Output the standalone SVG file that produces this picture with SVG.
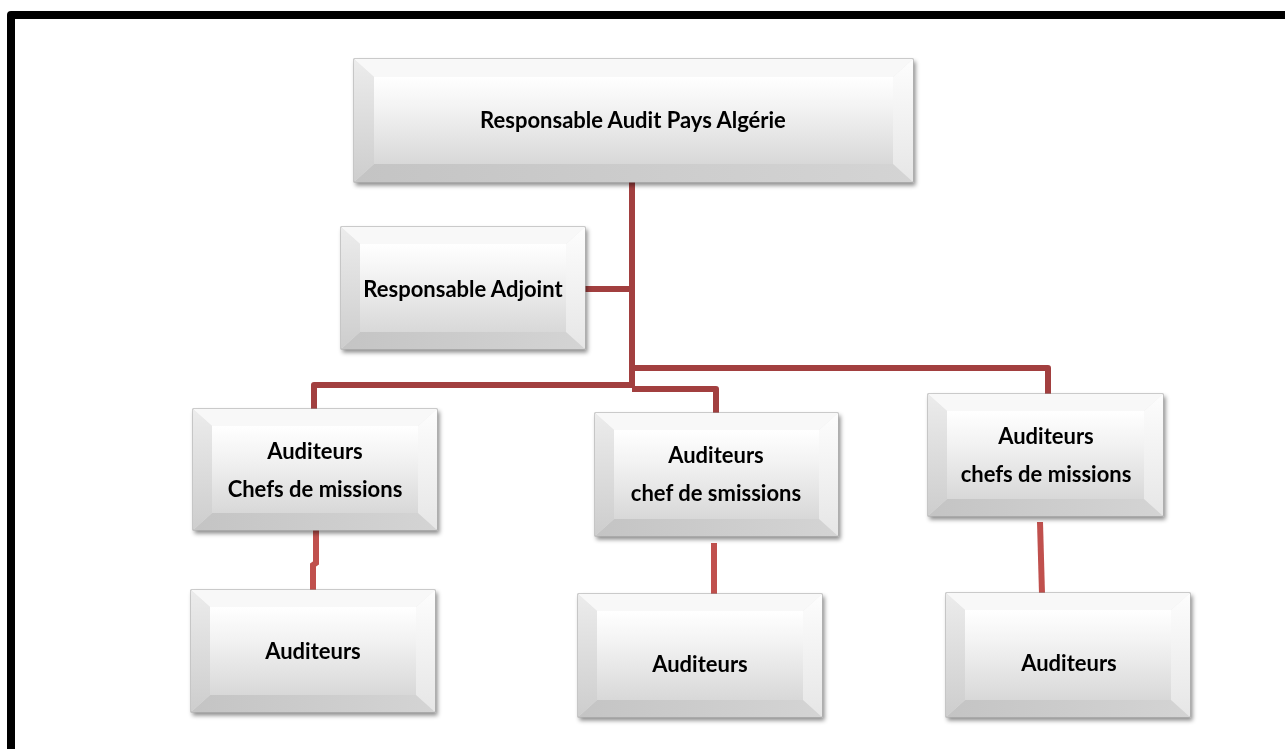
<svg xmlns="http://www.w3.org/2000/svg" width="1285" height="749" viewBox="0 0 1285 749">
<style>
.face{fill:url(#gFace)}
.outer{fill:#e8e8e8;stroke:#9e9e9e;stroke-width:1}
.bt{fill:#f8f8f8}
.bl{fill:url(#gLeft)}
.br{fill:url(#gRight)}
.bb{fill:url(#gBot)}
.lbl{font-family:Lato,"Liberation Sans",sans-serif;font-weight:700;font-size:22px;fill:#000;text-anchor:middle}
.c1{stroke:#a23f3f;stroke-width:6;fill:none;stroke-linejoin:round}
.c2{stroke:#c0504d;stroke-width:6;fill:none}
</style>
<defs>
<linearGradient id="gFace" x1="0" y1="0" x2="0" y2="1">
<stop offset="0" stop-color="#ffffff"/><stop offset="0.35" stop-color="#f3f3f3"/><stop offset="1" stop-color="#d8d8d8"/>
</linearGradient>
<linearGradient id="gLeft" x1="0" y1="0" x2="0" y2="1">
<stop offset="0" stop-color="#ececec"/><stop offset="1" stop-color="#cdcdcd"/>
</linearGradient>
<linearGradient id="gRight" x1="0" y1="0" x2="0" y2="1">
<stop offset="0" stop-color="#fdfdfd"/><stop offset="1" stop-color="#e6e6e6"/>
</linearGradient>
<linearGradient id="gBot" x1="0" y1="0" x2="1" y2="0">
<stop offset="0" stop-color="#c4c4c4"/><stop offset="1" stop-color="#d4d4d4"/>
</linearGradient>
<filter id="sh" x="-10%" y="-10%" width="125%" height="135%">
<feDropShadow dx="2" dy="3" stdDeviation="2" flood-color="#000" flood-opacity="0.45"/>
</filter>
</defs>
<rect width="1285" height="749" fill="#fff"/>
<path d="M11,760 L11,15 L1300,15" stroke="#000" stroke-width="8" fill="none" stroke-linejoin="round"/>

<g id="connectors">
<path class="c1" d="M632,182 L632,387"/>
<path class="c1" d="M585,289 L632,289"/>
<path class="c1" d="M632,368 L1048,368 L1048,394"/>
<path class="c1" d="M632,385 L314,385 L314,409"/>
<path class="c1" d="M632,389 L716,389 L716,413"/>
<path class="c2" d="M316,530 L316,563 L313,565 L313,590"/>
<path class="c2" d="M714,543 L714,594"/>
<path class="c2" d="M1040,522 L1042,594"/>
</g>

<g id="n1" filter="url(#sh)">
<rect class="outer" x="354" y="59" width="559" height="123"/>
<polygon class="bt" points="354,59 913,59 893,77 374,77"/>
<polygon class="bl" points="354,59 374,77 374,164 354,182"/>
<polygon class="br" points="913,59 913,182 893,164 893,77"/>
<polygon class="bb" points="354,182 374,164 893,164 913,182"/>
<rect class="face" x="374" y="77" width="519" height="87"/>
<text class="lbl" x="633" y="128">Responsable Audit Pays Algérie</text>
</g>

<g id="n2" filter="url(#sh)">
<rect class="outer" x="341" y="227" width="244" height="122"/>
<polygon class="bt" points="341,227 585,227 566,244 360,244"/>
<polygon class="bl" points="341,227 360,244 360,332 341,349"/>
<polygon class="br" points="585,227 585,349 566,332 566,244"/>
<polygon class="bb" points="341,349 360,332 566,332 585,349"/>
<rect class="face" x="360" y="244" width="206" height="88"/>
<text class="lbl" x="463" y="297">Responsable Adjoint</text>
</g>

<g id="n3" filter="url(#sh)">
<rect class="outer" x="193" y="409" width="244" height="121"/>
<polygon class="bt" points="193,409 437,409 418,426 212,426"/>
<polygon class="bl" points="193,409 212,426 212,513 193,530"/>
<polygon class="br" points="437,409 437,530 418,513 418,426"/>
<polygon class="bb" points="193,530 212,513 418,513 437,530"/>
<rect class="face" x="212" y="426" width="206" height="87"/>
<text class="lbl" x="315" y="459">Auditeurs</text>
<text class="lbl" x="315" y="497">Chefs de missions</text>
</g>

<g id="n4" filter="url(#sh)">
<rect class="outer" x="595" y="413" width="243" height="123"/>
<polygon class="bt" points="595,413 838,413 819,430 614,430"/>
<polygon class="bl" points="595,413 614,430 614,519 595,536"/>
<polygon class="br" points="838,413 838,536 819,519 819,430"/>
<polygon class="bb" points="595,536 614,519 819,519 838,536"/>
<rect class="face" x="614" y="430" width="205" height="89"/>
<text class="lbl" x="716" y="463">Auditeurs</text>
<text class="lbl" x="716" y="501">chef de smissions</text>
</g>

<g id="n5" filter="url(#sh)">
<rect class="outer" x="928" y="394" width="235" height="122"/>
<polygon class="bt" points="928,394 1163,394 1144,411 947,411"/>
<polygon class="bl" points="928,394 947,411 947,499 928,516"/>
<polygon class="br" points="1163,394 1163,516 1144,499 1144,411"/>
<polygon class="bb" points="928,516 947,499 1144,499 1163,516"/>
<rect class="face" x="947" y="411" width="197" height="88"/>
<text class="lbl" x="1046" y="444">Auditeurs</text>
<text class="lbl" x="1046" y="482">chefs de missions</text>
</g>

<g id="n6" filter="url(#sh)">
<rect class="outer" x="191" y="590" width="244" height="122"/>
<polygon class="bt" points="191,590 435,590 416,607 210,607"/>
<polygon class="bl" points="191,590 210,607 210,695 191,712"/>
<polygon class="br" points="435,590 435,712 416,695 416,607"/>
<polygon class="bb" points="191,712 210,695 416,695 435,712"/>
<rect class="face" x="210" y="607" width="206" height="88"/>
<text class="lbl" x="313" y="659">Auditeurs</text>
</g>

<g id="n7" filter="url(#sh)">
<rect class="outer" x="578" y="594" width="244" height="123"/>
<polygon class="bt" points="578,594 822,594 803,611 597,611"/>
<polygon class="bl" points="578,594 597,611 597,700 578,717"/>
<polygon class="br" points="822,594 822,717 803,700 803,611"/>
<polygon class="bb" points="578,717 597,700 803,700 822,717"/>
<rect class="face" x="597" y="611" width="206" height="89"/>
<text class="lbl" x="700" y="672">Auditeurs</text>
</g>

<g id="n8" filter="url(#sh)">
<rect class="outer" x="946" y="593" width="244" height="124"/>
<polygon class="bt" points="946,593 1190,593 1171,610 965,610"/>
<polygon class="bl" points="946,593 965,610 965,700 946,717"/>
<polygon class="br" points="1190,593 1190,717 1171,700 1171,610"/>
<polygon class="bb" points="946,717 965,700 1171,700 1190,717"/>
<rect class="face" x="965" y="610" width="206" height="90"/>
<text class="lbl" x="1069" y="671">Auditeurs</text>
</g>
</svg>
